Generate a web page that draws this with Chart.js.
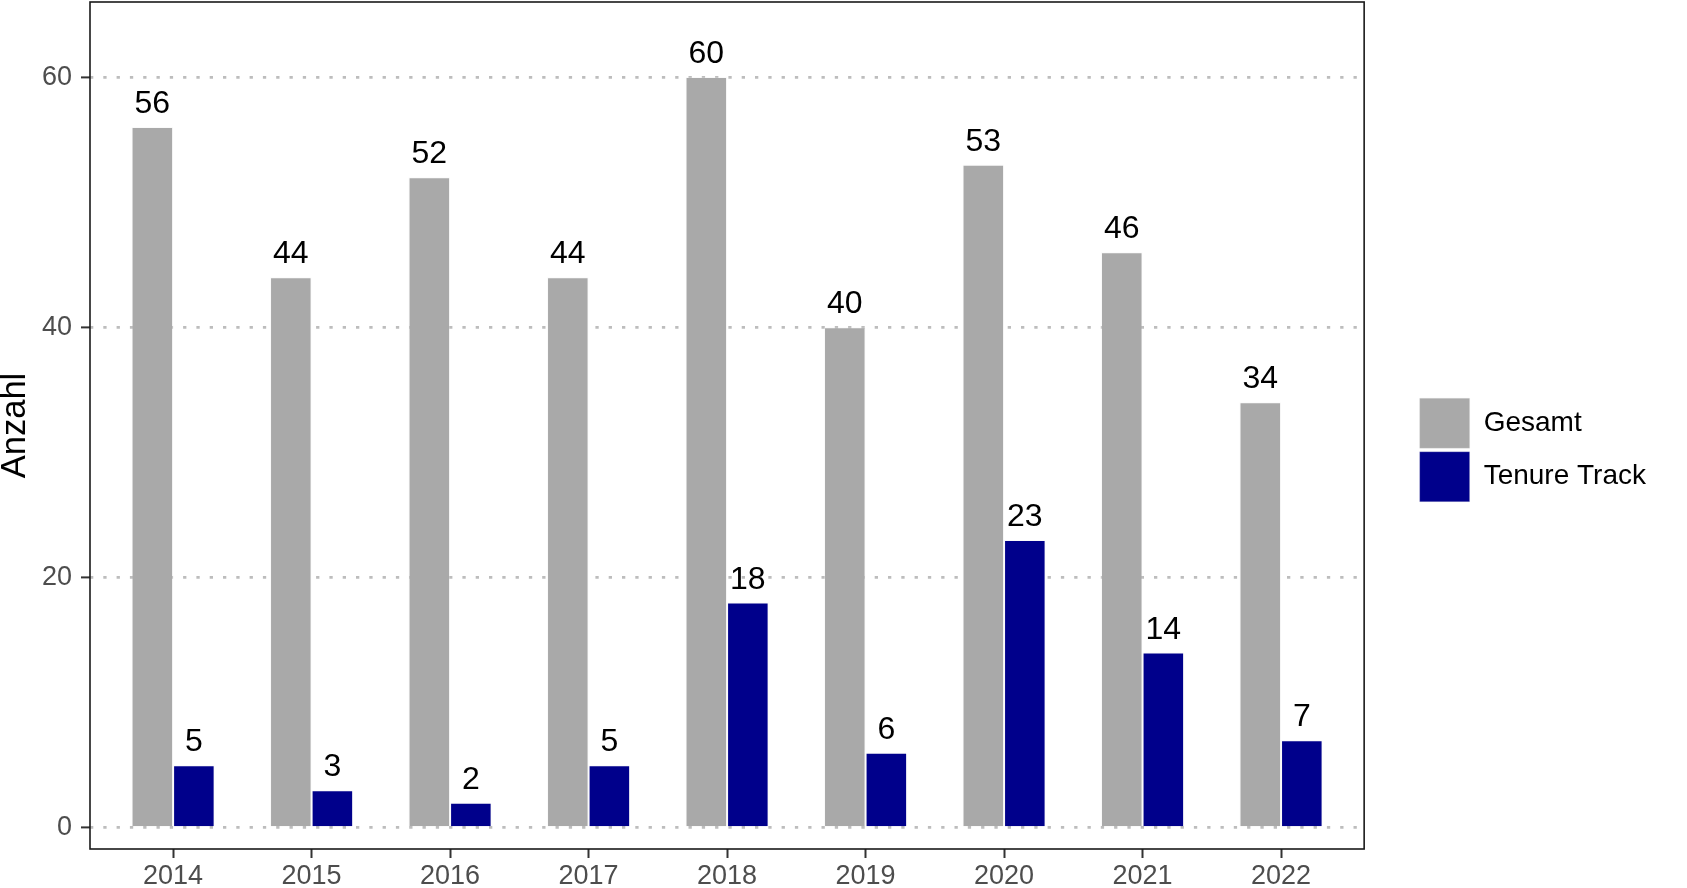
<!DOCTYPE html>
<html><head><meta charset="utf-8">
<script src="https://cdn.jsdelivr.net/npm/chart.js@4.4.1/dist/chart.umd.min.js"></script>
<style>html,body{margin:0;padding:0;background:#fff;overflow:hidden}canvas{display:block}</style>
</head><body>
<canvas id="c" width="1687" height="888" style="width:1687px;height:888px"></canvas>
<script>
const categories = ['2014','2015','2016','2017','2018','2019','2020','2021','2022'];
const gesamt = [56,44,52,44,60,40,53,46,34];
const tenureTrack = [5,3,2,5,18,6,23,14,7];
const yTicks = [0,20,40,60];
const seriesNames = ['Gesamt','Tenure Track'];
const seriesColors = ['#a9a9a9','#00008b'];
const yTitle = 'Anzahl';

const FONT = '"Liberation Sans", Arial, Helvetica, sans-serif';

const frame = {
  id:'frame',
  afterDatasetsDraw(chart){
    const {ctx, chartArea:a} = chart;
    ctx.save();
    ctx.strokeStyle = '#1a1a1a';
    ctx.lineWidth = 1.6;
    ctx.strokeRect(a.left, a.top, a.right - a.left, a.bottom - a.top);
    ctx.restore();
  }
};
const valueLabels = {
  id:'valueLabels',
  afterDatasetsDraw(chart){
    const ctx = chart.ctx;
    ctx.save();
    ctx.font = '32px ' + FONT;
    ctx.fillStyle = '#000';
    ctx.textAlign = 'center';
    ctx.textBaseline = 'alphabetic';
    chart.data.datasets.forEach((ds,i)=>{
      chart.getDatasetMeta(i).data.forEach((el,j)=>{
        ctx.fillText(String(ds.data[j].y), el.x, el.y - 14);
      });
    });
    ctx.restore();
  }
};

const toPoints = arr => arr.map((v,i)=>({x:i, y:v}));

new Chart(document.getElementById('c'), {
  type:'bar',
  data:{
    datasets:[
      {label:seriesNames[0], data:toPoints(gesamt), backgroundColor:seriesColors[0], borderColor:'rgba(235,235,235,0.25)', borderWidth:1, yAxisID:'y', xAxisID:'x'},
      {label:seriesNames[1], data:toPoints(tenureTrack), backgroundColor:seriesColors[1], borderColor:'rgba(235,235,235,0.25)', borderWidth:1, yAxisID:'y', xAxisID:'x'}
    ]
  },
  options:{
    responsive:false,
    animation:false,
    devicePixelRatio:1,
    layout:{padding:{top:2, right:31, bottom:0, left:0}},
    datasets:{bar:{categoryPercentage:0.6, barPercentage:1}},
    plugins:{
      tooltip:{enabled:false},
      legend:{
        position:'right',
        title:{display:true, text:' ', padding:0, font:{family:FONT, size:10, lineHeight:1}},
        labels:{boxWidth:50, boxHeight:50, padding:3.5, color:'#000', font:{family:FONT, size:28}}
      }
    },
    scales:{
      x:{
        type:'linear', min:-0.6, max:8.6, bounds:'data', offset:false,
        afterBuildTicks(s){ s.ticks = categories.map((c,i)=>({value:i})); },
        afterFit(s){ s.height = 39; },
        grid:{display:true, offset:false, drawOnChartArea:false, drawTicks:true, tickLength:9, tickColor:'#333', tickWidth:2, tickBorderDash:[]},
        border:{display:false},
        ticks:{autoSkip:false, maxRotation:0, padding:2, color:'#4d4d4d', font:{family:FONT, size:27}, callback:(v)=>categories[v]}
      },
      y:{
        type:'linear', position:'left', min:-1.7, max:66,
        afterBuildTicks(s){ s.ticks = yTicks.map(v=>({value:v})); },
        afterFit(s){ s.width = 90; s.paddingTop = 0; s.paddingBottom = 0; },
        grid:{display:true, drawOnChartArea:true, drawTicks:true, color:'#bdbdbd', lineWidth:2.8, tickLength:9, tickColor:'#333', tickWidth:2, tickBorderDash:[]},
        border:{display:false, dash:[3.3,10], dashOffset:0},
        ticks:{padding:9, color:'#4d4d4d', font:{family:FONT, size:27}},
        title:{display:true, text:yTitle, color:'#000', font:{family:FONT, size:34.5, lineHeight:0.9}, padding:{top:0, bottom:0}}
      },
      sp:{
        type:'linear', position:'right', display:true,
        grid:{display:false}, border:{display:false}, ticks:{display:false},
        afterFit(s){ s.width = 52; s.paddingTop = 0; s.paddingBottom = 0; }
      }
    }
  },
  plugins:[frame, valueLabels]
});
</script>
</body></html>
